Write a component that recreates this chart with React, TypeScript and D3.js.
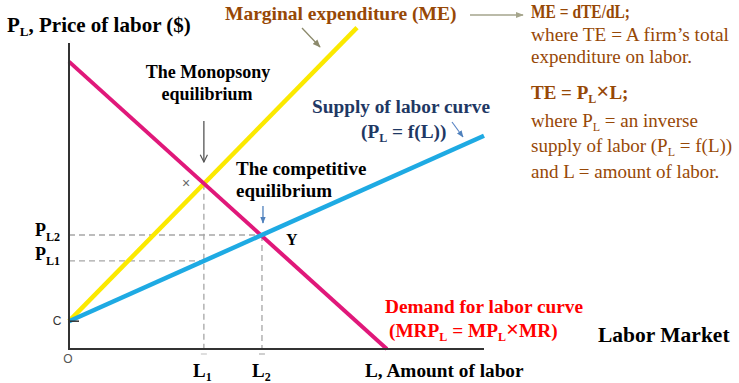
import React from "react";
import * as d3 from "d3";

// Data (units: L amount of labor 0..100, P price of labor 0..100)
const supplyL = [0, 100];
const supplyP = [9, 69];
const meL = [0, 69.4];
const meP = [9, 104];
const demandL = [0, 76.6];
const demandP = [93, 0];
const L1 = 32.5;
const L2 = 46.5;
const PL1 = 28.5;
const PL2 = 36.9;
const PME = 53.5; // monopsony point on ME / demand
const C = 9;

const rightLines = [
  { t: "ME = dTE/dL;", bold: true },
  { t: "where TE = A firm\u2019s total", bold: false },
  { t: "expenditure on labor.", bold: false },
];

const W = 739;
const H = 383;
const serif = "'Liberation Serif', 'Times New Roman', serif";
const sans = "'Liberation Sans', Arial, sans-serif";
const brown = "#974806";

export default function App() {
  const x = d3.scaleLinear().domain([0, 100]).range([69, 484]);
  const y = d3.scaleLinear().domain([0, 100]).range([349, 40]);
  const line = d3
    .line<[number, number]>()
    .x((d) => x(d[0]))
    .y((d) => y(d[1]));
  const pts = (ls: number[], ps: number[]) =>
    ls.map((l, i) => [l, ps[i]] as [number, number]);

  const dash = { stroke: "#a6a6a6", strokeWidth: 1.3, strokeDasharray: "6,4" };

  return (
    <svg
      width={W}
      height={H}
      style={{ position: "absolute", left: 0, top: 0, background: "#fff" }}
    >
      <defs>
        <marker id="agray" viewBox="0 0 10 10" refX="9" refY="5" markerWidth="9" markerHeight="9" orient="auto" markerUnits="userSpaceOnUse">
          <path d="M1,1 L9,5 L1,9" fill="none" stroke="#555" strokeWidth="1.3" />
        </marker>
        <marker id="ablue" viewBox="0 0 10 10" refX="9" refY="5" markerWidth="7" markerHeight="7" orient="auto" markerUnits="userSpaceOnUse">
          <path d="M0,1 L10,5 L0,9 Z" fill="#4f81bd" />
        </marker>
        <marker id="aolive" viewBox="0 0 10 10" refX="9" refY="5" markerWidth="8" markerHeight="8" orient="auto" markerUnits="userSpaceOnUse">
          <path d="M0,1 L10,5 L0,9 Z" fill="#8c8a6c" />
        </marker>
        <marker id="aolive2" viewBox="0 0 10 10" refX="9" refY="5" markerWidth="8" markerHeight="8" orient="auto" markerUnits="userSpaceOnUse">
          <path d="M0,1 L10,5 L0,9 Z" fill="#a5a58c" />
        </marker>
      </defs>

      {/* dashed guides */}
      <line x1={x(0)} x2={x(L2)} y1={y(PL2)} y2={y(PL2)} {...dash} />
      <line x1={x(0)} x2={x(L1)} y1={y(PL1)} y2={y(PL1)} {...dash} />
      <line x1={x(L1)} x2={x(L1)} y1={y(PME)} y2={y(0)} {...dash} />
      <line x1={x(L2)} x2={x(L2)} y1={y(PL2)} y2={y(0)} {...dash} />
      <line x1={x(L1) - 3} x2={x(L1) + 3} y1={y(0) + 5} y2={y(0) + 5} stroke="#c8c8c8" strokeWidth={1.2} />
      <line x1={x(L2) - 3} x2={x(L2) + 3} y1={y(0) + 5} y2={y(0) + 5} stroke="#b0b0b0" strokeWidth={1.2} />

      {/* curves */}
      <path d={line(pts(meL, meP)) || ""} stroke="#fbe900" strokeWidth={4.5} fill="none" />
      <path d={line(pts(demandL, demandP)) || ""} stroke="#e0187a" strokeWidth={4} fill="none" />
      <path d={line(pts(supplyL, supplyP)) || ""} stroke="#1eaae3" strokeWidth={4.5} fill="none" />

      {/* axes */}
      <line x1={x(0)} x2={x(0)} y1={y(99)} y2={y(0)} stroke="#333" strokeWidth={2} />
      <line x1={x(0) - 1} x2={x(100)} y1={y(0)} y2={y(0)} stroke="#333" strokeWidth={2} />
      <line x1={x(0)} x2={x(0) + 10} y1={y(C)} y2={y(C)} stroke="#333" strokeWidth={1.5} />

      {/* axis labels */}
      <text x={7} y={32} fontFamily={serif} fontWeight="bold" fontSize={21} fill="#000">
        P<tspan fontSize={13} dy={4}>L</tspan>
        <tspan dy={-4}>, Price of labor ($)</tspan>
      </text>
      <text x={365} y={377} fontFamily={serif} fontWeight="bold" fontSize={19.3} fill="#000">
        L, Amount of labor
      </text>
      <text x={598} y={342} fontFamily={serif} fontWeight="bold" fontSize={21.5} fill="#000">
        Labor Market
      </text>
      <text x={57} y={325} fontFamily={sans} fontSize={12} fill="#333" textAnchor="middle">C</text>
      <text x={68} y={363} fontFamily={sans} fontSize={12} fill="#555" textAnchor="middle">O</text>

      <text x={35} y={236} fontFamily={serif} fontWeight="bold" fontSize={18} fill="#000">
        P<tspan fontSize={12} dy={5}>L2</tspan>
      </text>
      <text x={35} y={260} fontFamily={serif} fontWeight="bold" fontSize={18} fill="#000">
        P<tspan fontSize={12} dy={5}>L1</tspan>
      </text>
      <text x={193} y={377} fontFamily={serif} fontWeight="bold" fontSize={19} fill="#000">
        L<tspan fontSize={12} dy={4}>1</tspan>
      </text>
      <text x={252} y={377} fontFamily={serif} fontWeight="bold" fontSize={19} fill="#000">
        L<tspan fontSize={12} dy={4}>2</tspan>
      </text>

      {/* Monopsony */}
      <text x={208} y={78} fontFamily={serif} fontWeight="bold" fontSize={18} fill="#000" textAnchor="middle">
        The Monopsony
      </text>
      <text x={207} y={100} fontFamily={serif} fontWeight="bold" fontSize={18} fill="#000" textAnchor="middle">
        equilibrium
      </text>
      <line x1={x(L1)} x2={x(L1)} y1={121} y2={162} stroke="#555" strokeWidth={1.3} markerEnd="url(#agray)" />
      <text x={186} y={188} fontFamily={sans} fontSize={14} fill="#666" textAnchor="middle">×</text>

      {/* Competitive */}
      <text x={236} y={175} fontFamily={serif} fontWeight="bold" fontSize={19} fill="#000">
        The competitive
      </text>
      <text x={236} y={197} fontFamily={serif} fontWeight="bold" fontSize={19} fill="#000">
        equilibrium
      </text>
      <line x1={x(L2) + 1} x2={x(L2) + 1} y1={206} y2={223} stroke="#4f81bd" strokeWidth={1.3} markerEnd="url(#ablue)" />
      <text x={286} y={245} fontFamily={serif} fontWeight="bold" fontSize={16} fill="#000">Y</text>

      {/* Supply label */}
      <text x={312} y={113} fontFamily={serif} fontWeight="bold" fontSize={19.3} fill="#1f3864">
        Supply of labor curve
      </text>
      <text x={361} y={138} fontFamily={serif} fontWeight="bold" fontSize={19.3} fill="#1f3864">
        (P<tspan fontSize={12} dy={4}>L</tspan>
        <tspan dy={-4}> = f(L))</tspan>
      </text>
      <line x1={452} y1={122} x2={463} y2={137} stroke="#5b86c5" strokeWidth={1.2} markerEnd="url(#ablue)" />

      {/* Demand label */}
      <text x={385} y={313} fontFamily={serif} fontWeight="bold" fontSize={19.3} fill="#ff0000">
        Demand for labor curve
      </text>
      <text x={389} y={337} fontFamily={serif} fontWeight="bold" fontSize={19.3} fill="#ff0000">
        (MRP<tspan fontSize={12} dy={4}>L</tspan>
        <tspan dy={-4}> = MP</tspan>
        <tspan fontSize={12} dy={4}>L</tspan>
        <tspan dy={-4} fontSize={23}>×</tspan>
        <tspan>MR)</tspan>
      </text>

      {/* ME label */}
      <text x={225} y={20} fontFamily={serif} fontWeight="bold" fontSize={19.5} fill={brown}>
        Marginal expenditure (ME)
      </text>
      <line x1={302} y1={28} x2={320} y2={47} stroke="#8c8a6c" strokeWidth={1.3} markerEnd="url(#aolive)" />
      <line x1={470} y1={15} x2={523} y2={15} stroke="#a5a58c" strokeWidth={1.5} markerEnd="url(#aolive2)" />

      {/* right text block */}
      {rightLines.map((r, i) => (
        <text
          key={i}
          x={531}
          y={[18, 41, 63][i]}
          fontFamily={serif}
          fontWeight={r.bold ? "bold" : "normal"}
          fontSize={19}
          fill={brown}
          textLength={[99, 198, 161][i]}
          lengthAdjust="spacingAndGlyphs"
        >
          {r.t}
        </text>
      ))}
      <text x={531} y={99} fontFamily={serif} fontWeight="bold" fontSize={19} fill={brown}>
        TE = P<tspan fontSize={12} dy={4}>L</tspan>
        <tspan dy={-4} fontSize={23}>×</tspan>
        <tspan>L;</tspan>
      </text>
      <text x={531} y={127} fontFamily={serif} fontSize={19} fill={brown}>
        where P<tspan fontSize={12} dy={4}>L</tspan>
        <tspan dy={-4}> = an inverse</tspan>
      </text>
      <text x={531} y={152} fontFamily={serif} fontSize={19} fill={brown}>
        supply of labor (P<tspan fontSize={12} dy={4}>L</tspan>
        <tspan dy={-4}> = f(L))</tspan>
      </text>
      <text x={531} y={178} fontFamily={serif} fontSize={19} fill={brown}>
        and L = amount of labor.
      </text>
    </svg>
  );
}
